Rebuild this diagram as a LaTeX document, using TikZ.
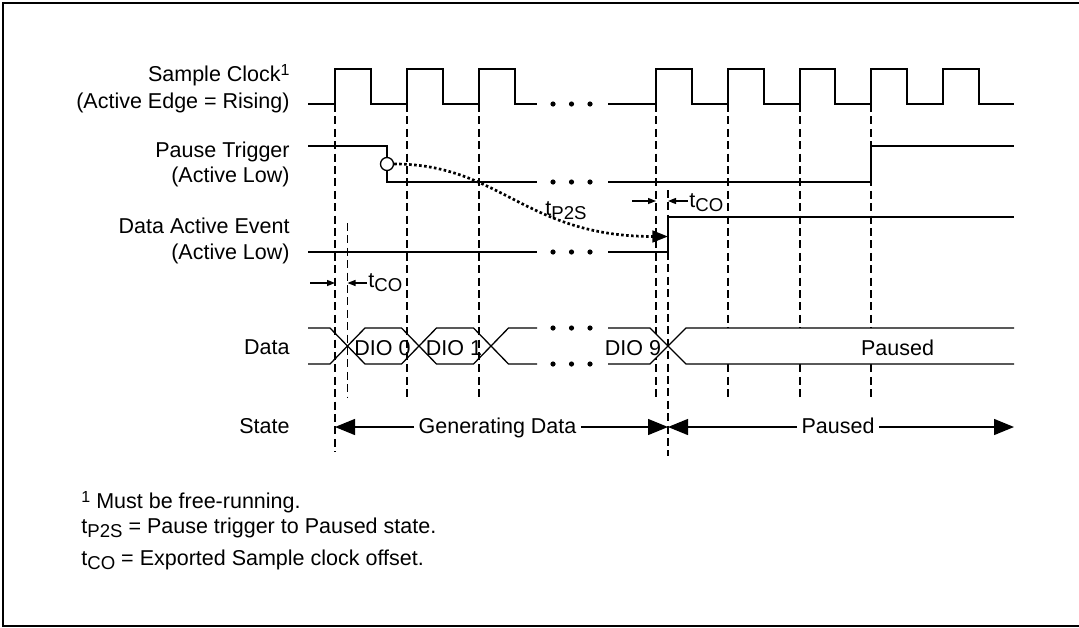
\documentclass[tikz,border=0pt]{standalone}
\usepackage{fontspec}
\setmainfont{Liberation Sans}
\usetikzlibrary{arrows.meta}
\newcommand{\lowsub}[1]{\raisebox{-2pt}{\fontsize{9.3}{10}\selectfont #1}}
\newcommand{\upsup}[1]{\raisebox{3pt}{\fontsize{8}{9}\selectfont #1}}

\begin{document}
\begin{tikzpicture}[x=0.5pt,y=-0.5pt,
  sig/.style={draw=linecolor,line width=0.65pt},
  grid/.style={draw=linecolor,line width=0.55pt,dash pattern=on 4pt off 2.2pt},
  lbl/.style={anchor=base east,inner sep=0pt},
  txt/.style={anchor=base,inner sep=0pt},
  bigarrow/.style={sig,-{Triangle[length=10pt,width=8pt]}},
  smallarrow/.style={sig,-{Triangle[length=4pt,width=3pt]}},
  font=\fontsize{10.75}{13}\selectfont]
\useasboundingbox (0,0) rectangle (1079,627);
\definecolor{linecolor}{RGB}{0,0,0} % Definition of the line color
\draw[line width=1pt] (1082,3) -- (3,3) -- (3,625.5) -- (1082,625.5); % Frame, open on the right

% Signal names
\node[lbl] (clkname) at (290,81.5) {Sample Clock\upsup{1}};
\node[lbl] (clkedge) at (290,108) {(Active Edge = Rising)};
\node[lbl] (ptname) at (290,157.5) {Pause Trigger};
\node[lbl] (ptlow) at (290,182.5) {(Active Low)};
\node[lbl] (daename) at (290,233.5) {Data Active Event};
\node[lbl] (daelow) at (290,259) {(Active Low)};
\node[lbl] (dataname) at (290,354) {Data};
\node[lbl] (statename) at (290,433.5) {State};

% Dashed lines on the clock edges
\foreach \x in {407,479,656,728,800,871}
  \draw[grid] (\x,104) -- (\x,397);
\draw[grid] (335,104) -- (335,452); % Start of generation
\draw[grid] (347.5,223) -- (347.5,397); % First exported edge
\draw[grid] (668,190) -- (668,456); % Start of pause

% Sample Clock
\draw[sig] (308,104) -- (335,104) -- (335,69) -- (371,69) -- (371,104) -- (407,104) -- (407,69) -- (443,69) -- (443,104) -- (479,104) -- (479,69) -- (515,69) -- (515,104) -- (537,104);
\draw[sig] (608,104) -- (656,104) -- (656,69) -- (692,69) -- (692,104) -- (728,104) -- (728,69) -- (764,69) -- (764,104) -- (800,104) -- (800,69) -- (835,69) -- (835,104) -- (871,104) -- (871,69) -- (907,69) -- (907,104) -- (943,104) -- (943,69) -- (979,69) -- (979,104) -- (1014,104);

% Pause Trigger
\draw[sig] (308,146) -- (387,146) -- (387,182) -- (537,182);
\draw[sig] (608,182) -- (871,182) -- (871,146) -- (1014,146);
\node[circle,draw=linecolor,line width=0.65pt,fill=white,inner sep=0pt,minimum size=6.5pt] (ptbubble) at (387,164) {};

% Data Active Event
\draw[sig] (308,252) -- (537,252);
\draw[sig] (608,252) -- (668,252) -- (668,217) -- (1014,217);
\coordinate (daeedge) at (668,236.5);

% Pause trigger to Paused state
\draw[draw=linecolor,line width=1.35pt,dash pattern=on 1.3pt off 1.2pt,-{Triangle[length=7.8pt,width=5.8pt]}] (ptbubble.east) .. controls (500,164) and (525,236.5) .. (daeedge);
\node[anchor=base west,inner sep=0pt] (tpts) at (545,215) {t\lowsub{P2S}};

% Exported Sample clock offset, top
\coordinate (tcoa1) at (632,201);
\coordinate (tcoa2) at (656,201);
\coordinate (tcob1) at (688,201);
\coordinate (tcob2) at (668,201);
\draw[smallarrow] (tcoa1) -- (tcoa2);
\draw[smallarrow] (tcob1) -- (tcob2);
\node[anchor=base west,inner sep=0pt] (tcotop) at (689,207) {t\lowsub{CO}};

% Exported Sample clock offset, bottom
\coordinate (tcoc1) at (310,283);
\coordinate (tcoc2) at (335,283);
\coordinate (tcod1) at (367,283);
\coordinate (tcod2) at (347.5,283);
\draw[smallarrow] (tcoc1) -- (tcoc2);
\draw[smallarrow] (tcod1) -- (tcod2);
\node[anchor=base west,inner sep=0pt] (tcobot) at (368,287) {t\lowsub{CO}};

% Data
\fill[white] (608,328) -- (650,328) -- (668,346) -- (650,364) -- (608,364) -- cycle;
\fill[white] (668,346) -- (686,328) -- (1014,328) -- (1014,364) -- (686,364) -- cycle;
\draw[sig] (308,328) -- (330,328) -- (365,364) -- (401.5,364) -- (436.5,328) -- (473.5,328) -- (508.5,364) -- (537,364);
\draw[sig] (308,364) -- (330,364) -- (365,328) -- (401.5,328) -- (436.5,364) -- (473.5,364) -- (508.5,328) -- (537,328);
\draw[sig] (608,328) -- (650,328) -- (686,364) -- (1014,364);
\draw[sig] (608,364) -- (650,364) -- (686,328) -- (1014,328);
\node[txt] (dio0) at (382.5,355) {DIO 0};
\node[txt] (dio1) at (454,355) {DIO 1};
\node[txt] (dio9) at (633,355) {DIO 9};
\node[txt] (datapaused) at (897.5,355) {Paused};

% Dots
\foreach \y in {104,182,252,328,364}
  \foreach \x in {553,571.5,590}
    \fill[linecolor] (\x,\y) circle[radius=1.3pt];

% State
\coordinate (s0) at (335,427);
\coordinate (s1) at (668,427);
\coordinate (s2) at (1014,427);
\node[txt,inner xsep=2pt] (gen) at (497.5,433.5) {Generating Data};
\node[txt,inner xsep=2pt] (pau) at (838,433.5) {Paused};
\draw[bigarrow] (gen.west |- s0) -- (s0);
\draw[bigarrow] (gen.east |- s1) -- (s1);
\draw[bigarrow] (pau.west |- s1) -- (s1);
\draw[bigarrow] (pau.east |- s2) -- (s2);

% Notes
\node[anchor=base west,inner sep=0pt] (note1) at (81,508) {\upsup{1} Must be free-running.};
\node[anchor=base west,inner sep=0pt] (note2) at (81,533) {t\lowsub{P2S} = Pause trigger to Paused state.};
\node[anchor=base west,inner sep=0pt] (note3) at (81,565) {t\lowsub{CO} = Exported Sample clock offset.};
\end{tikzpicture}
\end{document}
